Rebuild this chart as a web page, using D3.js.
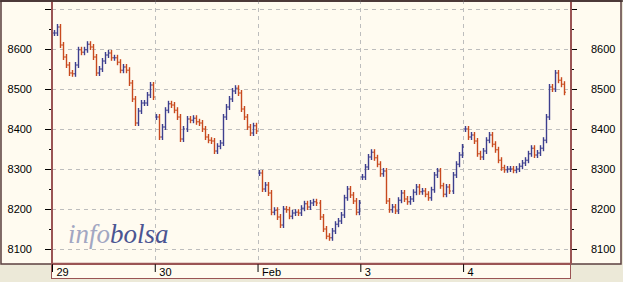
<!DOCTYPE html>
<html>
<head>
<meta charset="utf-8">
<script src="https://cdn.jsdelivr.net/npm/d3@7"></script>
<style>
  body { margin: 0; background: #ece9d8; }
  svg { display: block; font-family: "Liberation Sans", Arial, sans-serif; }
</style>
</head>
<body>
<svg id="chart"></svg>
<script>
// dagen op de x-as
const dayLabels = ["29", "30", "Feb", "3", "4"];

const day29 = [8640, 8655, 8610, 8580, 8560, 8540, 8538, 8560, 8598, 8592, 8598, 8612, 8605, 8580, 8540, 8550, 8570,
  8585, 8590, 8578, 8578, 8567, 8547, 8555, 8547, 8515, 8475, 8415, 8445, 8465, 8465, 8485, 8510, 8480];
const day30 = [8430, 8380, 8405, 8447, 8463, 8460, 8447, 8430, 8375, 8400, 8425, 8422, 8427, 8418, 8415, 8400, 8380,
  8372, 8370, 8345, 8357, 8365, 8430, 8455, 8475, 8495, 8502, 8490, 8450, 8430, 8405, 8390, 8408, 8395];
const dayFeb = [8290, 8250, 8260, 8240, 8192, 8197, 8180, 8160, 8200, 8198, 8182, 8190, 8192, 8190, 8202, 8213, 8205,
  8215, 8218, 8215, 8180, 8150, 8132, 8128, 8145, 8162, 8170, 8185, 8228, 8250, 8235, 8220, 8192, 8215];
const day3 = [8280, 8305, 8330, 8342, 8328, 8312, 8288, 8295, 8220, 8198, 8205, 8195, 8222, 8240, 8225, 8218, 8225,
  8242, 8255, 8243, 8245, 8237, 8228, 8248, 8285, 8295, 8258, 8237, 8255, 8245, 8285, 8312, 8335, 8355];
const day4 = [8400, 8380, 8385, 8370, 8338, 8330, 8345, 8372, 8385, 8362, 8348, 8322, 8303, 8298, 8300, 8300, 8297,
  8300, 8307, 8315, 8322, 8338, 8352, 8335, 8340, 8352, 8372, 8430, 8505, 8500, 8540, 8522, 8512, 8492];

// y-as labels en tussenstreepjes
const yLabels = [8100, 8200, 8300, 8400, 8500, 8600];
const yMajor = [8100, 8200, 8300, 8400, 8500, 8600, 8700];
const yMinor = [8150, 8250, 8350, 8450, 8550, 8650];

const width = 623;
const height = 282;
const plotLeft = 52, plotRight = 571, plotTop = 0, plotBottom = 263;

const upColor = "#3d3f8e";
const downColor = "#c84a1e";
const frameColor = "#9a5454";

const svg = d3.select("#chart").attr("width", width).attr("height", height);

const x = d3.scaleLinear().domain([0, 5.05]).range([plotLeft, plotRight]);
const y = d3.scaleLinear().domain([8067.5, 8722.5]).range([plotBottom - 1, plotTop]);

// balken opbouwen: open = vorige slot binnen dezelfde dag
const days = [day29, day30, dayFeb, day3, day4];
const bars = [];
days.forEach((closes, d) => {
  closes.forEach((c, i) => {
    const o = i === 0 ? c : closes[i - 1];
    bars.push({ pos: d + (i + 0.5) / closes.length, open: o, close: c });
  });
});

// achtergrond panelen
svg.append("rect")
  .attr("x", 1).attr("y", 1).attr("width", 620).attr("height", 263)
  .attr("fill", "#fffbf0").attr("stroke", "#5b3f3f").attr("stroke-width", 1.5);

// x-as strook
svg.append("rect")
  .attr("x", 51.5).attr("y", 264.5).attr("width", 519).attr("height", 14)
  .attr("fill", "#fffbf0").attr("stroke", frameColor).attr("stroke-width", 1);

// grid
svg.append("g")
  .selectAll("line")
  .data(yMajor)
  .join("line")
  .attr("x1", plotLeft).attr("x2", plotRight)
  .attr("y1", d => Math.round(y(d)) + 0.5).attr("y2", d => Math.round(y(d)) + 0.5)
  .attr("stroke", "#bdbdbd").attr("stroke-dasharray", "4,4");

svg.append("g")
  .selectAll("line")
  .data(d3.range(1, dayLabels.length))
  .join("line")
  .attr("x1", d => Math.round(x(d)) + 0.5).attr("x2", d => Math.round(x(d)) + 0.5)
  .attr("y1", plotTop).attr("y2", plotBottom)
  .attr("stroke", "#bdbdbd").attr("stroke-dasharray", "4,4");

// watermerk
const mark = svg.append("text")
  .attr("x", 68).attr("y", 243)
  .attr("font-family", "'Liberation Serif', 'DejaVu Serif', serif")
  .attr("font-style", "italic")
  .attr("font-size", 27);
mark.append("tspan").attr("fill", "#a2a7c2").text("info");
mark.append("tspan").attr("fill", "#4b5592").text("bolsa");

// koersbalken
const g = svg.append("g");
g.selectAll("line.bar")
  .data(bars)
  .join("line")
  .attr("class", "bar")
  .attr("x1", d => Math.round(x(d.pos)) + 0.5).attr("x2", d => Math.round(x(d.pos)) + 0.5)
  .attr("y1", d => y(Math.max(d.open, d.close)) - 3)
  .attr("y2", d => y(Math.min(d.open, d.close)) + 3)
  .attr("stroke", d => d.close >= d.open ? upColor : downColor)
  .attr("stroke-width", 1.4);

g.selectAll("line.open")
  .data(bars)
  .join("line")
  .attr("class", "open")
  .attr("x1", d => Math.round(x(d.pos)) - 1).attr("x2", d => Math.round(x(d.pos)))
  .attr("y1", d => y(d.open)).attr("y2", d => y(d.open))
  .attr("stroke", d => d.close >= d.open ? upColor : downColor);

g.selectAll("line.close")
  .data(bars)
  .join("line")
  .attr("class", "close")
  .attr("x1", d => Math.round(x(d.pos)) + 1).attr("x2", d => Math.round(x(d.pos)) + 2)
  .attr("y1", d => y(d.close)).attr("y2", d => y(d.close))
  .attr("stroke", d => d.close >= d.open ? upColor : downColor);

// assen
const fmt = d => yLabels.includes(d) ? d : "";

const leftAxis = svg.append("g")
  .attr("transform", `translate(${plotLeft},0)`)
  .call(d3.axisLeft(y).tickValues(yMajor).tickFormat(fmt).tickSize(7).tickPadding(13));
leftAxis.append("g")
  .call(d3.axisLeft(y).tickValues(yMinor).tickFormat("").tickSize(3));

const rightAxis = svg.append("g")
  .attr("transform", `translate(${plotRight},0)`)
  .call(d3.axisRight(y).tickValues(yMajor).tickFormat(fmt).tickSize(6).tickPadding(14));
rightAxis.append("g")
  .call(d3.axisRight(y).tickValues(yMinor).tickFormat("").tickSize(3));

const xAxis = svg.append("g")
  .attr("transform", `translate(0,${plotBottom + 1})`)
  .call(d3.axisBottom(x).tickValues(d3.range(dayLabels.length)).tickFormat(i => dayLabels[i]).tickSize(8));

[leftAxis, rightAxis, xAxis].forEach(a => {
  a.selectAll(".domain").remove();
  a.selectAll("line").attr("stroke", "#000");
  a.selectAll("text").attr("font-size", 11).attr("fill", "#000")
    .attr("font-family", "'Liberation Sans', Arial, sans-serif");
});

xAxis.selectAll("text")
  .attr("text-anchor", "start")
  .attr("x", 4).attr("y", 12).attr("dy", 0);

// plot randen
svg.append("line")
  .attr("x1", plotLeft).attr("x2", plotLeft).attr("y1", 0).attr("y2", 264)
  .attr("stroke", frameColor).attr("stroke-width", 2);
svg.append("line")
  .attr("x1", plotRight).attr("x2", plotRight).attr("y1", 0).attr("y2", 264)
  .attr("stroke", frameColor).attr("stroke-width", 2);
svg.append("line")
  .attr("x1", plotLeft).attr("x2", plotRight).attr("y1", plotBottom + 0.5).attr("y2", plotBottom + 0.5)
  .attr("stroke", frameColor).attr("stroke-width", 1.5);
svg.append("line")
  .attr("x1", 0).attr("x2", width).attr("y1", 1).attr("y2", 1)
  .attr("stroke", "#3b2a2a").attr("stroke-width", 1.5);
</script>
</body>
</html>
